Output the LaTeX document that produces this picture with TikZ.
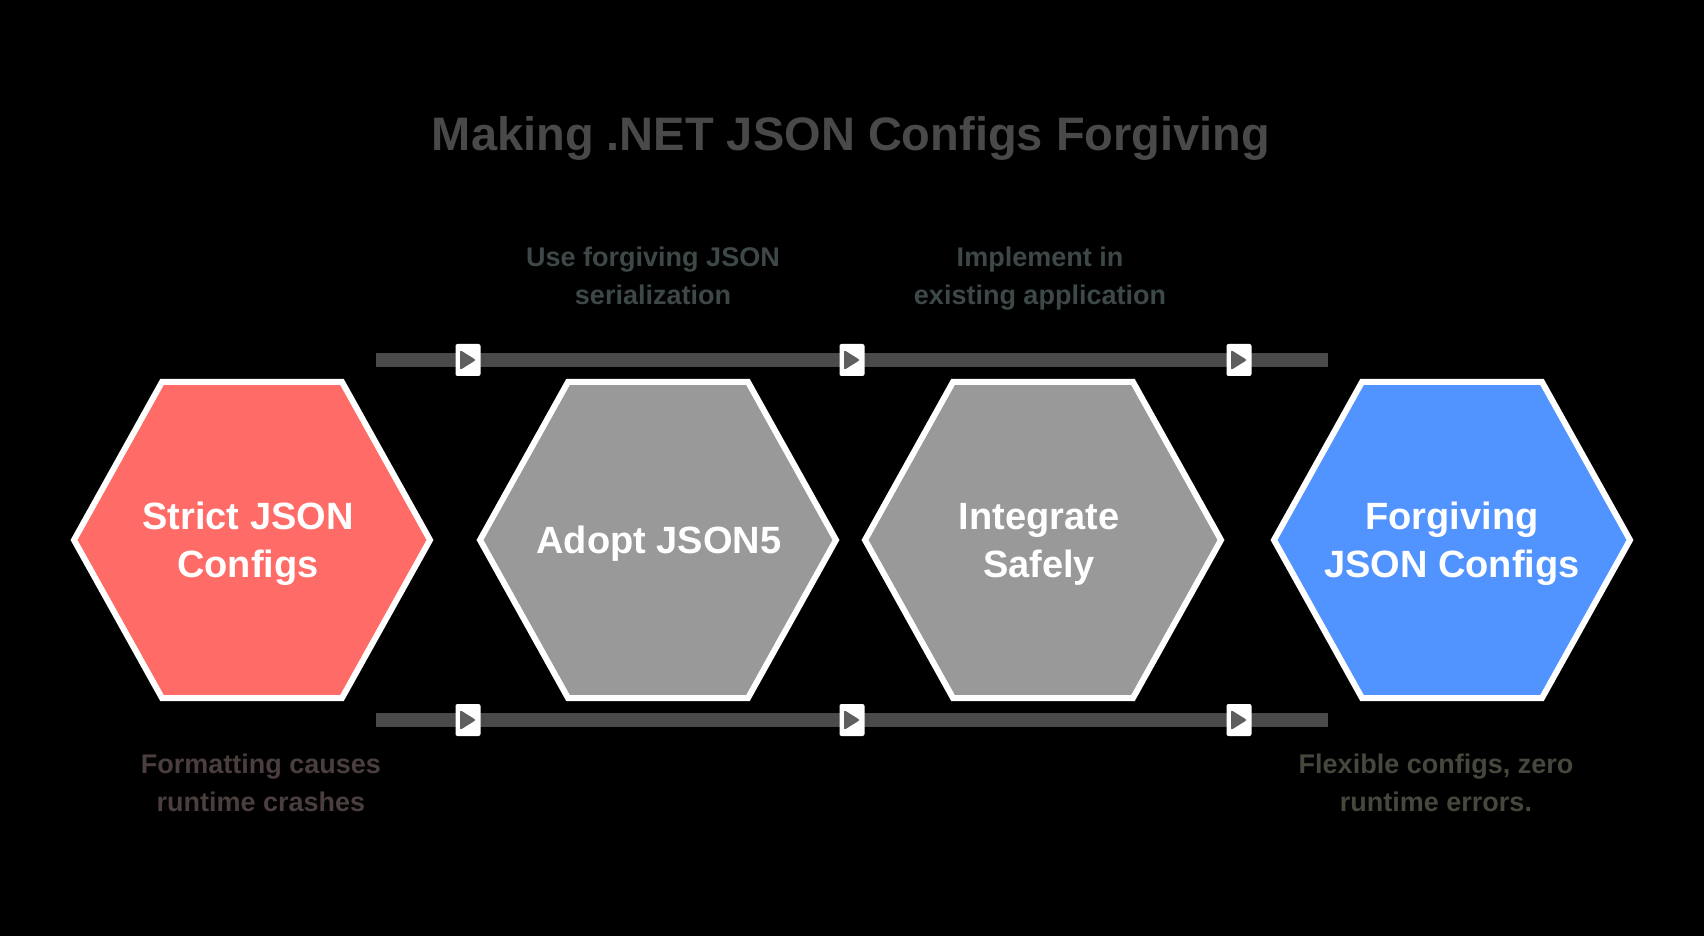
\documentclass[tikz,border=0pt]{standalone}
\usepackage{fontspec}
\setmainfont{Liberation Sans}
\definecolor{hexred}{RGB}{255,107,102}
\definecolor{hexgray}{RGB}{153,153,153}
\definecolor{hexblue}{RGB}{82,148,255}
\definecolor{titlecol}{RGB}{73,73,73}
\definecolor{toplab}{RGB}{62,72,72}
\definecolor{redlab}{RGB}{75,62,62}
\definecolor{bluelab}{RGB}{70,72,62}
\definecolor{linecol}{RGB}{74,74,74}
\definecolor{arrowgray}{RGB}{94,94,94}
\tikzset{
  hexframe/.style={draw=white, line width=3pt, line join=miter},
  hextext/.style={text=white, font=\fontsize{19pt}{24pt}\selectfont\bfseries, align=center, inner sep=0pt},
  labeltext/.style={font=\fontsize{13.5pt}{19pt}\selectfont\bfseries, align=center, inner sep=0pt},
  titletext/.style={text=titlecol, font=\fontsize{23.5pt}{28pt}\selectfont\bfseries, inner sep=0pt},
  flowline/.style={draw=linecol, line width=7pt},
  arrowbox/.style={fill=white, draw=none, minimum width=12.5pt, minimum height=16pt, inner sep=0pt, rounded corners=1pt,
    path picture={\fill[arrowgray] ([xshift=-4pt,yshift=5pt]path picture bounding box.center) -- ([xshift=4pt]path picture bounding box.center) -- ([xshift=-4pt,yshift=-5pt]path picture bounding box.center) -- cycle;}}
}
\newcommand{\hexagonat}[3]{%
  \filldraw[hexframe, fill=#3] (#1-178,#2) -- (#1-90,#2-158) -- (#1+90,#2-158) -- (#1+178,#2) -- (#1+90,#2+158) -- (#1-90,#2+158) -- cycle;}
\begin{document}
\begin{tikzpicture}[x=0.5pt,y=-0.5pt]
\fill[black] (0,0) rectangle (1704,936);
\useasboundingbox (0,0) rectangle (1704,936);

% title
\node[titletext, anchor=base] (title) at (851,151) {Making .NET JSON Configs Forgiving};

% flow lines
\coordinate (tL) at (376,360);
\coordinate (tR) at (1328,360);
\coordinate (bL) at (376,720);
\coordinate (bR) at (1328,720);
\draw[flowline] (tL) -- (tR);
\draw[flowline] (bL) -- (bR);

% arrowheads
\node[arrowbox] (ta1) at (468,360) {};
\node[arrowbox] (ta2) at (852,360) {};
\node[arrowbox] (ta3) at (1239,360) {};
\node[arrowbox] (ba1) at (468,720) {};
\node[arrowbox] (ba2) at (852,720) {};
\node[arrowbox] (ba3) at (1239,720) {};

% hexagons
\hexagonat{252}{540}{hexred}
\hexagonat{658}{540}{hexgray}
\hexagonat{1043}{540}{hexgray}
\hexagonat{1452}{540}{hexblue}

\node[hextext] (h1) at (248,544) {Strict JSON\\Configs};
\node[hextext] (h2) at (659,544) {Adopt JSON5};
\node[hextext] (h3) at (1039,544) {Integrate\\Safely};
\node[hextext] (h4) at (1452,544) {Forgiving\\JSON Configs};

% labels
\node[labeltext, text=toplab] (l1) at (653,276) {Use forgiving JSON\\serialization};
\node[labeltext, text=toplab] (l2) at (1040,279) {Implement in\\existing application};
\node[labeltext, text=redlab] (l3) at (261,783) {Formatting causes\\runtime crashes};
\node[labeltext, text=bluelab] (l4) at (1436,783) {Flexible configs, zero\\runtime errors.};
\end{tikzpicture}
\end{document}
